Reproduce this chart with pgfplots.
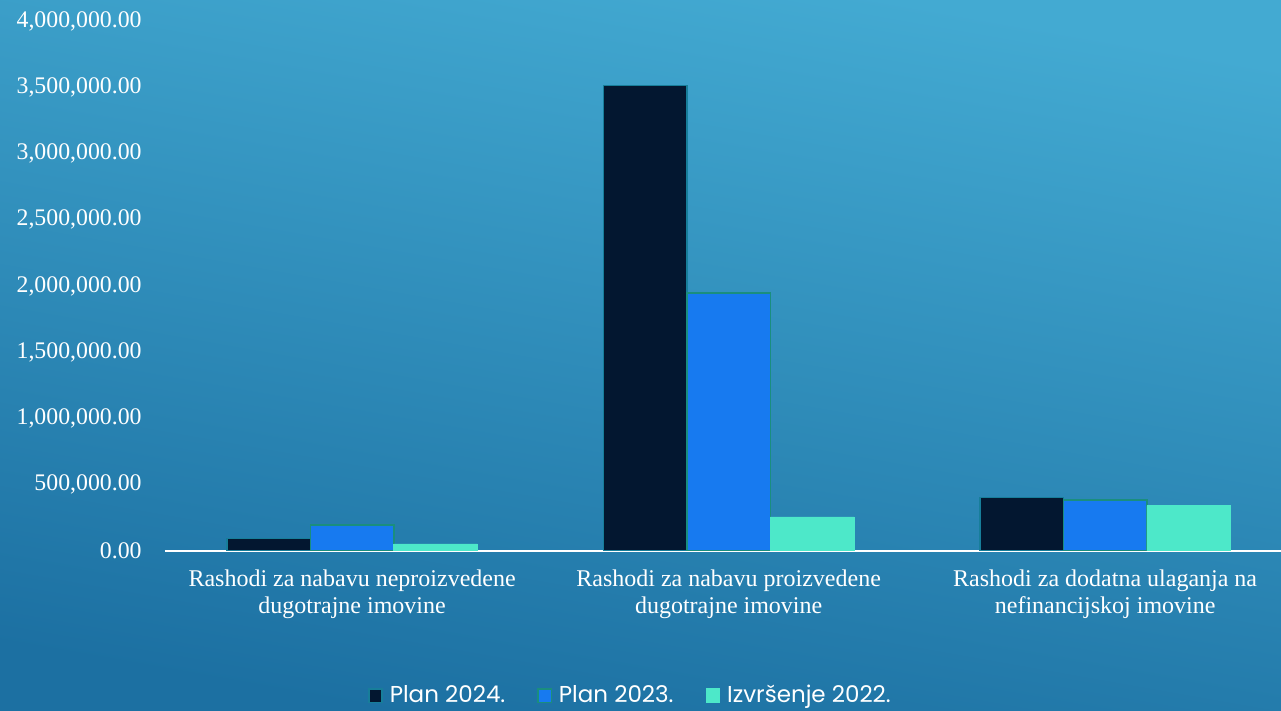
\documentclass[border=0pt]{standalone}
\usepackage{pgfplots}
\pgfplotsset{compat=1.18}
\usepackage{fontspec}
\setmainfont{Liberation Serif}
\newfontfamily\legendfont{Poppins}

\definecolor{bgtop}{HTML}{43AAD2}
\definecolor{bgbot}{HTML}{1C70A2}
\definecolor{cnavy}{HTML}{031730}
\definecolor{cnavyedge}{HTML}{177E9A}
\definecolor{cblue}{HTML}{177AF0}
\definecolor{cblueedge}{HTML}{1A8E7E}
\definecolor{cturq}{HTML}{4DE8C9}

\begin{document}
\begin{tikzpicture}
  \useasboundingbox (0,0) rectangle (640.5pt,355.5pt);
  \shade[top color=bgtop, bottom color=bgbot, shading angle=-10]
    (0,0) rectangle (640.5pt,355.5pt);
  \begin{axis}[
    at={(82.5pt,80pt)}, anchor=south west,
    scale only axis,
    width=558pt, height=265pt,
    ybar=0pt, bar width=41.75pt,
    xmin=-0.497, xmax=2.467,
    ymin=0, ymax=4000000,
    ytick={0,500000,...,4000000},
    scaled y ticks=false,
    yticklabel style={
      /pgf/number format/.cd, fixed, fixed zerofill, precision=2,
      1000 sep={,}, assume math mode=true,
      /tikz/.cd, anchor=east, inner sep=0pt, xshift=-11.5pt,
      font=\fontsize{11.9}{14}\selectfont, text=white},
    xtick={0,1,2},
    xticklabels={
      {Rashodi za nabavu neproizvedene\\dugotrajne imovine},
      {Rashodi za nabavu proizvedene\\dugotrajne imovine},
      {Rashodi za dodatna ulaganja na\\nefinancijskoj imovine}},
    xticklabel style={align=center, anchor=north, inner sep=0pt, yshift=-9pt,
      font=\fontsize{12}{13.6}\selectfont, text=white},
    major tick length=0pt,
    axis x line=bottom, axis y line=left,
    x axis line style={draw=white, line width=1pt, -},
    y axis line style={draw=none},
    tick style={draw=none},
    legend columns=-1,
    legend image code/.code={\draw[#1, line width=0.7pt] (0pt,-3.3pt) rectangle (6.6pt,3.3pt);},
    legend style={at={(0.418,-0.273)}, anchor=center, draw=none, fill=none,
      text=white, font=\legendfont\fontsize{11.5}{13}\selectfont,
      /tikz/every odd column/.append style={column sep=1.5pt},
      /tikz/every even column/.append style={column sep=14pt}},
  ]
  \addplot[fill=cnavy, draw=cnavyedge, line width=0.7pt] coordinates {
    (0,96000) (1,3512000) (2,405000)};
  \addlegendentry{Plan 2024.}
  \addplot[fill=cblue, draw=cblueedge, line width=0.7pt] coordinates {
    (0,196000) (1,1947000) (2,385000)};
  \addlegendentry{Plan 2023.}
  \addplot[fill=cturq, draw=cturq, line width=0.4pt] coordinates {
    (0,53000) (1,257000) (2,342000)};
  \addlegendentry{Izvršenje 2022.}
  \end{axis}
\end{tikzpicture}
\end{document}
